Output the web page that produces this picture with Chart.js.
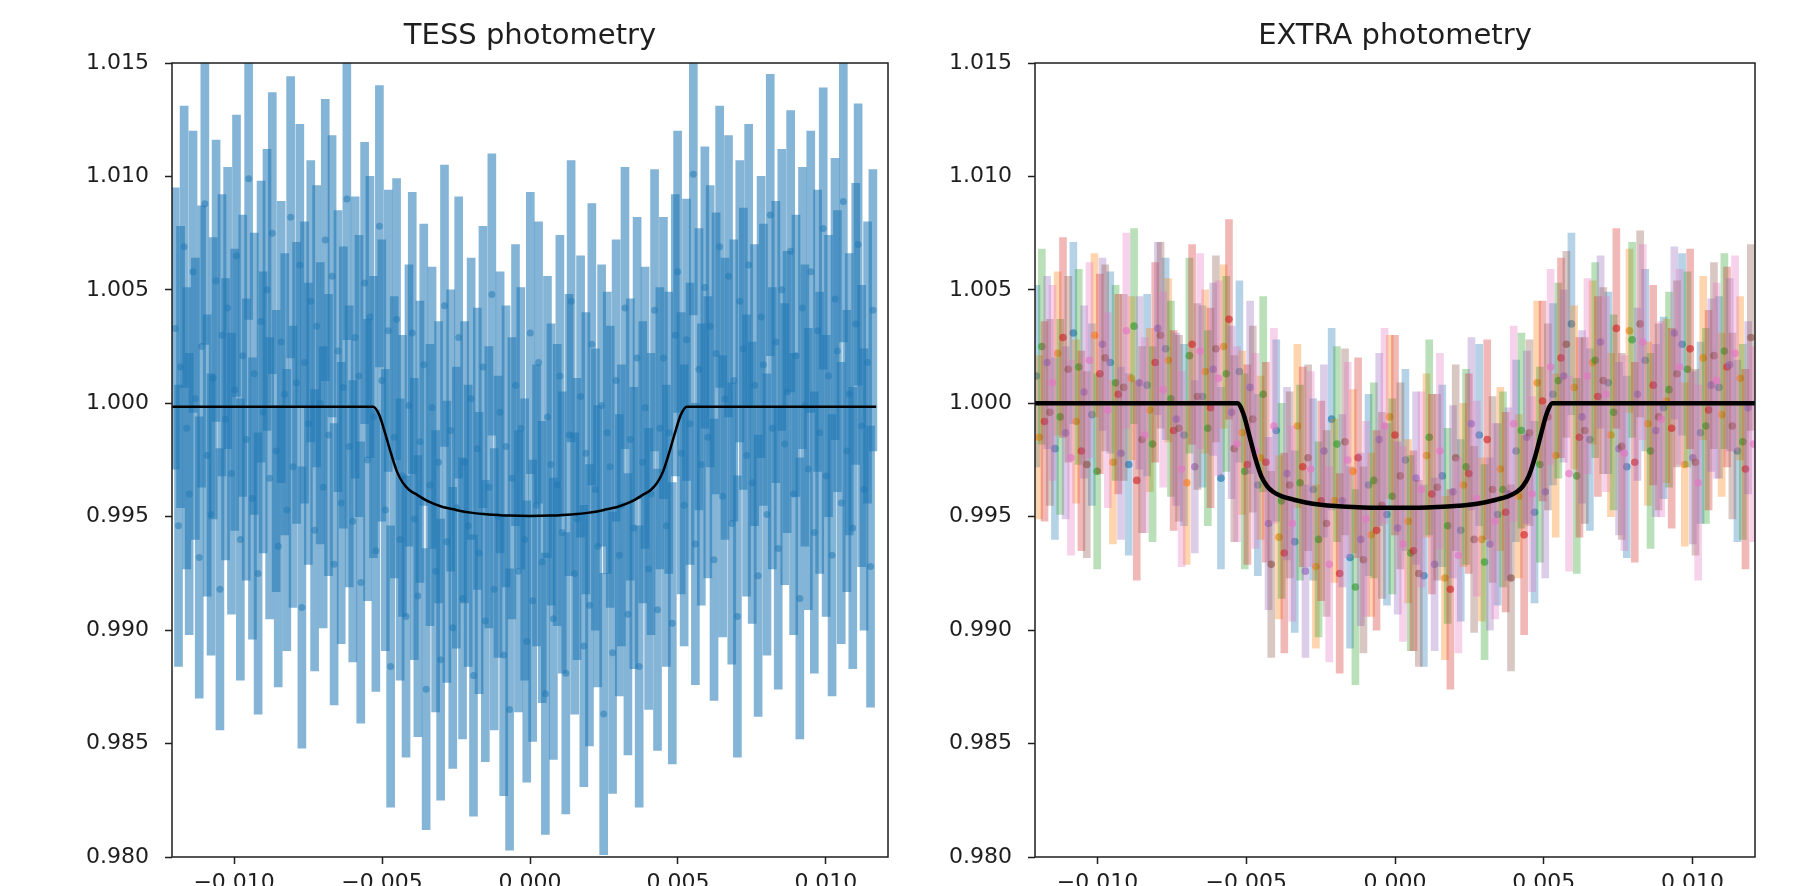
<!DOCTYPE html>
<html>
<head>
<meta charset="utf-8">
<script src="https://cdn.jsdelivr.net/npm/chart.js@4.4.1/dist/chart.umd.min.js"></script>
<style>
  html, body { margin: 0; padding: 0; background: #fff; overflow: hidden; width: 1797px; height: 886px; }
  canvas { position: absolute; top: 0; }
  #tess { left: 0; }
  #extra { left: 863px; }
</style>
</head>
<body>
<canvas id="tess" width="892" height="940"></canvas>
<canvas id="extra" width="900" height="940"></canvas>
<script>
// ---------- axes ----------
const xTicks = [-0.010, -0.005, 0.000, 0.005, 0.010];
const yTicks = [0.980, 0.985, 0.990, 0.995, 1.000, 1.005, 1.010, 1.015];
const xLimits = [-0.0121, 0.0121];
const yLimits = [0.980, 1.015];

// ---------- TESS photometry ----------
const tessTime = [
  -0.01199, -0.01188, -0.01181, -0.01169, -0.01160, -0.01152, -0.01139, -0.01131, -0.01118, -0.01110,
  -0.01099, -0.01091, -0.01078, -0.01071, -0.01061, -0.01048, -0.01041, -0.01029, -0.01022, -0.01009,
  -0.00998, -0.00992, -0.00979, -0.00971, -0.00959, -0.00951, -0.00938, -0.00932, -0.00919, -0.00909,
  -0.00902, -0.00889, -0.00880, -0.00871, -0.00858, -0.00851, -0.00841, -0.00829, -0.00822, -0.00809,
  -0.00801, -0.00789, -0.00778, -0.00771, -0.00762, -0.00749, -0.00741, -0.00728, -0.00721, -0.00709,
  -0.00699, -0.00692, -0.00681, -0.00669, -0.00662, -0.00649, -0.00638, -0.00631, -0.00619, -0.00611,
  -0.00599, -0.00591, -0.00578, -0.00572, -0.00559, -0.00549, -0.00541, -0.00529, -0.00521, -0.00509,
  -0.00501, -0.00489, -0.00479, -0.00471, -0.00459, -0.00451, -0.00439, -0.00431, -0.00419, -0.00409,
  -0.00398, -0.00391, -0.00379, -0.00372, -0.00359, -0.00351, -0.00338, -0.00331, -0.00319, -0.00309,
  -0.00302, -0.00289, -0.00281, -0.00268, -0.00261, -0.00249, -0.00241, -0.00228, -0.00221, -0.00209,
  -0.00199, -0.00191, -0.00178, -0.00172, -0.00159, -0.00151, -0.00139, -0.00129, -0.00121, -0.00108,
  -0.00101, -0.00089, -0.00081, -0.00069, -0.00061, -0.00049, -0.00039, -0.00031, -0.00018, -0.00011,
  0.00001, 0.00009, 0.00022, 0.00029, 0.00041, 0.00052, 0.00059, 0.00071, 0.00079, 0.00092,
  0.00101, 0.00109, 0.00121, 0.00132, 0.00139, 0.00151, 0.00159, 0.00171, 0.00182, 0.00189,
  0.00201, 0.00209, 0.00221, 0.00229, 0.00242, 0.00249, 0.00261, 0.00271, 0.00279, 0.00291,
  0.00302, 0.00309, 0.00321, 0.00331, 0.00339, 0.00351, 0.00362, 0.00369, 0.00381, 0.00389,
  0.00401, 0.00409, 0.00421, 0.00431, 0.00439, 0.00451, 0.00461, 0.00469, 0.00481, 0.00491,
  0.00499, 0.00511, 0.00521, 0.00529, 0.00541, 0.00552, 0.00559, 0.00571, 0.00579, 0.00591,
  0.00601, 0.00609, 0.00622, 0.00629, 0.00641, 0.00651, 0.00659, 0.00671, 0.00682, 0.00689,
  0.00701, 0.00709, 0.00721, 0.00732, 0.00739, 0.00751, 0.00759, 0.00771, 0.00781, 0.00789,
  0.00801, 0.00812, 0.00819, 0.00831, 0.00839, 0.00851, 0.00861, 0.00869, 0.00881, 0.00891,
  0.00899, 0.00912, 0.00921, 0.00929, 0.00941, 0.00949, 0.00961, 0.00972, 0.00979, 0.00991,
  0.01001, 0.01009, 0.01021, 0.01031, 0.01039, 0.01052, 0.01059, 0.01071, 0.01079, 0.01091,
  0.01101, 0.01109, 0.01121, 0.01129, 0.01141, 0.01151, 0.01159
];
const tessFlux = [
  1.0033, 0.9946, 1.0016, 1.0069, 0.9989, 0.9960, 1.0058, 1.0002, 0.9932, 1.0025,
  1.0088, 0.9977, 0.9951, 1.0011, 1.0054, 0.9918, 1.0030, 0.9993, 1.0042, 0.9969,
  1.0006, 1.0065, 0.9940, 1.0021, 0.9984, 1.0099, 0.9958, 1.0013, 0.9925, 1.0036,
  0.9996, 1.0050, 0.9967, 1.0075, 0.9979, 0.9937, 1.0027, 1.0004, 0.9953, 1.0082,
  0.9972, 1.0009, 1.0061, 0.9910, 1.0018, 0.9991, 1.0045, 0.9944, 1.0034, 1.0000,
  0.9963, 1.0072, 0.9986, 1.0056, 0.9929, 1.0023, 0.9956, 1.0007, 1.0090, 0.9981,
  0.9948, 1.0029, 1.0012, 0.9921, 1.0053, 0.9975, 1.0038, 0.9994, 0.9935, 1.0078,
  1.0010, 0.9953, 1.0032, 0.9884, 0.9985, 1.0037, 0.9940, 0.9968, 0.9906, 0.9999,
  1.0031, 0.9949, 0.9915, 0.9983, 1.0017, 0.9874, 0.9964, 0.9998, 0.9926, 0.9974,
  0.9887, 1.0043, 0.9939, 0.9988, 0.9901, 0.9954, 1.0029, 0.9914, 0.9974, 0.9946,
  1.0002, 0.9880, 0.9980, 0.9934, 1.0016, 0.9904, 0.9963, 1.0048, 0.9918, 0.9950,
  0.9996, 0.9889, 0.9981, 0.9865, 0.9967, 1.0008, 0.9926, 0.9989, 0.9940, 0.9895,
  1.0031, 0.9913, 0.9955, 1.0018, 0.9930, 0.9872, 0.9994, 0.9973, 0.9905, 0.9964,
  1.0012, 0.9943, 0.9881, 0.9986, 1.0045, 0.9925, 0.9949, 1.0003, 0.9893, 0.9978,
  0.9911, 1.0026, 0.9962, 0.9937, 0.9999, 0.9863, 0.9987, 0.9972, 0.9890, 1.0010,
  0.9933, 0.9955, 1.0042, 0.9907, 0.9984, 0.9945, 1.0020, 0.9884, 0.9974, 0.9998,
  0.9927, 0.9960, 1.0041, 0.9909, 0.9989, 1.0020, 0.9946, 0.9987, 0.9903, 1.0030,
  1.0058, 0.9978, 0.9955, 1.0028, 0.9991, 1.0101, 0.9938, 1.0015, 0.9973, 1.0051,
  0.9985, 1.0034, 0.9931, 1.0022, 1.0069, 0.9959, 1.0002, 1.0056, 0.9947, 1.0010,
  0.9906, 1.0045, 1.0024, 0.9977, 1.0061, 0.9965, 1.0008, 0.9924, 1.0038, 1.0017,
  0.9951, 1.0083, 0.9989, 1.0027, 0.9936, 1.0050, 0.9982, 1.0005, 1.0067, 0.9960,
  1.0021, 0.9914, 1.0042, 0.9999, 0.9971, 1.0058, 0.9943, 1.0032, 0.9987, 1.0077,
  0.9968, 1.0012, 0.9933, 1.0046, 1.0023, 0.9956, 1.0089, 0.9979, 1.0004, 0.9945,
  1.0035, 1.0070, 0.9990, 0.9962, 1.0018, 0.9928, 1.0041
];
const tessErr = 0.0062;

const tessModelTime = [-0.0121, -0.0060, -0.0053, -0.0051, -0.0049, -0.0047, -0.0045, -0.0043, -0.0041, -0.0038,
  -0.0034, -0.0030, -0.0025, -0.0020, -0.0014, -0.0007, 0.0000, 0.0007, 0.0014, 0.0020, 0.0025, 0.0030, 0.0034,
  0.0038, 0.0041, 0.0043, 0.0045, 0.0047, 0.0049, 0.0051, 0.0053, 0.0060, 0.0117];
const tessModelFlux = [0.99985, 0.99985, 0.99985, 0.9995, 0.9987, 0.9978, 0.9970, 0.99650, 0.99620, 0.99595,
  0.99565, 0.99545, 0.99530, 0.99518, 0.99510, 0.99505, 0.99503, 0.99505, 0.99510, 0.99518, 0.99530, 0.99545, 0.99565,
  0.99595, 0.99620, 0.99650, 0.9970, 0.9978, 0.9987, 0.9995, 0.99985, 0.99985, 0.99985];

// ---------- EXTRA photometry (seven instruments) ----------
const extraTimeA = [-0.01205, -0.01143, -0.01081, -0.01019, -0.00957, -0.00895, -0.00833, -0.00771, -0.00709, -0.00647,
  -0.00585, -0.00523, -0.00461, -0.00399, -0.00337, -0.00275, -0.00213, -0.00151, -0.00089, -0.00027, 0.00035, 0.00097,
  0.00159, 0.00221, 0.00283, 0.00345, 0.00407, 0.00469, 0.00531, 0.00593, 0.00655, 0.00717, 0.00779, 0.00841, 0.00903,
  0.00965, 0.01027, 0.01089, 0.01151];
const extraTimeB = [-0.01196, -0.01134, -0.01072, -0.01010, -0.00948, -0.00886, -0.00824, -0.00762, -0.00700, -0.00638,
  -0.00576, -0.00514, -0.00452, -0.00390, -0.00328, -0.00266, -0.00204, -0.00142, -0.00080, -0.00018, 0.00044, 0.00106,
  0.00168, 0.00230, 0.00292, 0.00354, 0.00416, 0.00478, 0.00540, 0.00602, 0.00664, 0.00726, 0.00788, 0.00850, 0.00912,
  0.00974, 0.01036, 0.01098, 0.01160];
const extraTimeC = [-0.01187, -0.01125, -0.01063, -0.01001, -0.00939, -0.00877, -0.00815, -0.00753, -0.00691, -0.00629,
  -0.00567, -0.00505, -0.00443, -0.00381, -0.00319, -0.00257, -0.00195, -0.00133, -0.00071, -0.00009, 0.00053, 0.00115,
  0.00177, 0.00239, 0.00301, 0.00363, 0.00425, 0.00487, 0.00549, 0.00611, 0.00673, 0.00735, 0.00797, 0.00859, 0.00921,
  0.00983, 0.01045, 0.01107, 0.01169];
const extraTimeD = [-0.01178, -0.01116, -0.01054, -0.00992, -0.00930, -0.00868, -0.00806, -0.00744, -0.00682, -0.00620,
  -0.00558, -0.00496, -0.00434, -0.00372, -0.00310, -0.00248, -0.00186, -0.00124, -0.00062, 0.00000, 0.00062, 0.00124,
  0.00186, 0.00248, 0.00310, 0.00372, 0.00434, 0.00496, 0.00558, 0.00620, 0.00682, 0.00744, 0.00806, 0.00868, 0.00930,
  0.00992, 0.01054, 0.01116, 0.01178];
const extraTimeE = [-0.01169, -0.01107, -0.01045, -0.00983, -0.00921, -0.00859, -0.00797, -0.00735, -0.00673, -0.00611,
  -0.00549, -0.00487, -0.00425, -0.00363, -0.00301, -0.00239, -0.00177, -0.00115, -0.00053, 0.00009, 0.00071, 0.00133,
  0.00195, 0.00257, 0.00319, 0.00381, 0.00443, 0.00505, 0.00567, 0.00629, 0.00691, 0.00753, 0.00815, 0.00877, 0.00939,
  0.01001, 0.01063, 0.01125, 0.01187];
const extraTimeF = [-0.01160, -0.01098, -0.01036, -0.00974, -0.00912, -0.00850, -0.00788, -0.00726, -0.00664, -0.00602,
  -0.00540, -0.00478, -0.00416, -0.00354, -0.00292, -0.00230, -0.00168, -0.00106, -0.00044, 0.00018, 0.00080, 0.00142,
  0.00204, 0.00266, 0.00328, 0.00390, 0.00452, 0.00514, 0.00576, 0.00638, 0.00700, 0.00762, 0.00824, 0.00886, 0.00948,
  0.01010, 0.01072, 0.01134, 0.01196];
const extraTimeG = [-0.01151, -0.01089, -0.01027, -0.00965, -0.00903, -0.00841, -0.00779, -0.00717, -0.00655, -0.00593,
  -0.00531, -0.00469, -0.00407, -0.00345, -0.00283, -0.00221, -0.00159, -0.00097, -0.00035, 0.00027, 0.00089, 0.00151,
  0.00213, 0.00275, 0.00337, 0.00399, 0.00461, 0.00523, 0.00585, 0.00647, 0.00709, 0.00771, 0.00833, 0.00895, 0.00957,
  0.01019, 0.01081, 0.01143, 0.01205];

const extraFluxA = [1.0012, 0.9980, 1.0031, 0.9995, 1.0018, 0.9973, 1.0008, 1.0024, 0.9986, 1.0003, 0.9967,
  1.0014, 0.9964, 0.9988, 0.9939, 0.9962, 0.9993, 0.9932, 0.9964, 0.9951, 0.9975, 0.9924, 0.9968, 0.9944, 0.9986,
  0.9951, 0.9979, 0.9952, 1.0004, 1.0035, 0.9984, 1.0009, 0.9972, 1.0019, 0.9998, 1.0026, 0.9987, 1.0007, 0.9979];
const extraFluxB = [0.9985, 1.0022, 0.9992, 1.0030, 0.9974, 1.0011, 0.9997, 1.0019, 0.9965, 1.0014, 1.0025,
  0.9987, 0.9976, 0.9941, 0.9990, 0.9928, 0.9957, 0.9970, 0.9942, 0.9994, 0.9948, 0.9977, 0.9923, 0.9964, 0.9940,
  0.9971, 0.9959, 1.0009, 0.9977, 1.0007, 1.0018, 0.9986, 1.0032, 0.9991, 1.0001, 0.9973, 1.0020, 0.9995, 1.0011];
const extraFluxC = [1.0025, 0.9994, 1.0016, 0.9970, 1.0009, 1.0034, 0.9982, 1.0002, 1.0021, 0.9989, 1.0013,
  0.9970, 1.0004, 0.9957, 0.9965, 0.9940, 0.9982, 0.9919, 0.9966, 0.9959, 0.9934, 0.9985, 0.9946, 0.9972, 0.9930,
  0.9962, 0.9988, 0.9973, 1.0010, 0.9968, 1.0019, 0.9996, 1.0028, 0.9979, 1.0006, 1.0015, 0.9990, 1.0023, 0.9983];
const extraFluxD = [0.9992, 1.0029, 0.9979, 1.0013, 1.0004, 0.9966, 1.0018, 0.9988, 1.0026, 0.9998, 1.0037,
  0.9973, 0.9974, 0.9934, 0.9972, 0.9957, 0.9925, 0.9976, 0.9944, 0.9986, 0.9935, 0.9960, 0.9918, 0.9969, 0.9984,
  0.9952, 0.9942, 1.0001, 1.0020, 0.9985, 1.0003, 1.0033, 0.9974, 1.0008, 0.9989, 1.0024, 0.9997, 1.0016, 0.9971];
const extraFluxE = [1.0018, 0.9987, 1.0005, 1.0026, 0.9978, 1.0009, 1.0033, 0.9993, 0.9972, 1.0015, 0.9996,
  1.0007, 0.9947, 0.9969, 0.9926, 0.9979, 0.9957, 0.9940, 0.9984, 0.9945, 0.9967, 0.9929, 0.9961, 0.9991, 0.9938,
  0.9960, 0.9985, 0.9961, 1.0012, 0.9994, 1.0027, 0.9980, 1.0004, 0.9988, 1.0031, 0.9976, 1.0008, 1.0017, 0.9998];
const extraFluxF = [0.9996, 1.0015, 0.9973, 1.0020, 1.0007, 0.9984, 1.0030, 0.9989, 1.0003, 1.0024, 0.9980,
  0.9993, 0.9929, 0.9964, 0.9976, 0.9947, 0.9983, 0.9931, 0.9955, 0.9968, 0.9925, 0.9963, 0.9976, 0.9940, 0.9962,
  0.9923, 0.9987, 0.9994, 1.0026, 0.9988, 1.0010, 0.9981, 1.0035, 0.9994, 1.0013, 0.9974, 1.0021, 0.9990, 1.0029];
const extraFluxG = [1.0009, 0.9976, 1.0019, 0.9997, 1.0032, 0.9986, 1.0006, 0.9971, 1.0023, 1.0011, 0.9982,
  0.9979, 0.9990, 0.9947, 0.9971, 0.9929, 0.9975, 0.9949, 0.9990, 0.9938, 0.9962, 0.9979, 0.9933, 0.9958, 0.9948,
  0.9991, 0.9960, 1.0016, 0.9969, 1.0012, 1.0004, 0.9978, 1.0027, 0.9993, 1.0016, 0.9965, 1.0010, 1.0022, 0.9982];
const extraErr = [0.0040, 0.0036, 0.0043, 0.0044, 0.0038, 0.0041, 0.0043];

const extraModelTime = [-0.0121, -0.0060, -0.0053, -0.0051, -0.0049, -0.0047, -0.0045, -0.0043, -0.0041, -0.0038,
  -0.0034, -0.0030, -0.0025, -0.0020, -0.0014, -0.0007, 0.0000, 0.0007, 0.0014, 0.0020, 0.0025, 0.0030, 0.0034,
  0.0038, 0.0041, 0.0043, 0.0045, 0.0047, 0.0049, 0.0051, 0.0053, 0.0060, 0.0121];
const extraModelFlux = [1.0000, 1.0000, 1.0000, 0.99955, 0.9986, 0.9976, 0.9968, 0.99635, 0.99610, 0.99590,
  0.99575, 0.99563, 0.99553, 0.99547, 0.99543, 0.99540, 0.99540, 0.99540, 0.99543, 0.99547, 0.99553, 0.99563, 0.99575,
  0.99590, 0.99610, 0.99635, 0.9968, 0.9976, 0.9986, 0.99955, 1.0000, 1.0000, 1.0000];

// ---------- drawing ----------
const tab10 = ['31,119,180', '255,127,14', '44,160,44', '214,39,40', '148,103,189', '140,86,75', '227,119,194'];
const inkColor = '#1e1e1e';
Chart.defaults.font.family = "'DejaVu Sans', sans-serif";
Chart.defaults.font.size = 22;
Chart.defaults.color = inkColor;

function errorBars(times, flux, err, rgb, alpha, width, order) {
  return {
    type: 'bar',
    data: times.map((t, i) => ({ x: t, y: [flux[i] - err, flux[i] + err] })),
    backgroundColor: 'rgba(' + rgb + ',' + alpha + ')',
    borderWidth: 0,
    grouped: false,
    barThickness: width,
    maxBarThickness: width,
    barPercentage: 1,
    order: order
  };
}

function dots(times, flux, rgb, alpha, radius, order) {
  return {
    type: 'scatter',
    data: times.map((t, i) => ({ x: t, y: flux[i] })),
    showLine: false,
    pointRadius: radius,
    pointBorderWidth: 0,
    pointBackgroundColor: 'rgba(' + rgb + ',' + alpha + ')',
    order: order
  };
}

function modelLine(times, flux, width) {
  return {
    type: 'line',
    data: times.map((t, i) => ({ x: t, y: flux[i] })),
    borderColor: '#000',
    borderWidth: width,
    pointRadius: 0,
    fill: false,
    cubicInterpolationMode: 'monotone',
    order: 0
  };
}

function fmt(v) {
  const s = Math.abs(v).toFixed(3);
  return v < -1e-9 ? '\u2212' + s : s;
}

const frame = {
  id: 'frame',
  afterDatasetsDraw(chart) {
    const a = chart.chartArea, ctx = chart.ctx;
    ctx.save();
    ctx.strokeStyle = inkColor;
    ctx.lineWidth = 1.5;
    ctx.strokeRect(a.left, a.top, a.right - a.left, a.bottom - a.top);
    ctx.restore();
  }
};

function panelOptions(title, rightPad) {
  const tickGrid = { display: true, drawOnChartArea: false, drawTicks: true, tickLength: 7, tickWidth: 1.5, tickColor: inkColor };
  return {
    responsive: false,
    animation: false,
    events: [],
    layout: { padding: { left: 0, right: rightPad, top: 0, bottom: 0 } },
    plugins: {
      legend: { display: false },
      tooltip: { enabled: false },
      title: {
        display: true, text: title, fullSize: false, color: inkColor,
        font: { size: 29, weight: 'normal' },
        padding: { top: 19, bottom: 9.2 }
      }
    },
    scales: {
      x: {
        type: 'linear', min: xLimits[0], max: xLimits[1], offset: false,
        grid: Object.assign({ offset: false }, tickGrid), border: { display: false },
        afterBuildTicks: s => { s.ticks = xTicks.map(v => ({ value: v })); },
        afterFit: s => { s.height = 83; },
        ticks: { padding: 6, maxRotation: 0, autoSkip: false, callback: fmt }
      },
      y: {
        type: 'linear', min: yLimits[0], max: yLimits[1],
        grid: tickGrid, border: { display: false },
        afterBuildTicks: s => { s.ticks = yTicks.map(v => ({ value: v })); },
        afterFit: s => { s.width = 172; },
        ticks: { padding: 16, callback: fmt }
      }
    }
  };
}

// TESS panel
new Chart(document.getElementById('tess'), {
  type: 'scatter',
  data: {
    datasets: [
      errorBars(tessTime, tessFlux, tessErr, tab10[0], 0.55, 8, 20),
      dots(tessTime, tessFlux, tab10[0], 0.5, 3.5, 19),
      modelLine(tessModelTime, tessModelFlux, 2.5)
    ]
  },
  options: panelOptions('TESS photometry', 4),
  plugins: [frame]
});

// EXTRA panel
const extraTimes = [extraTimeA, extraTimeB, extraTimeC, extraTimeD, extraTimeE, extraTimeF, extraTimeG];
const extraFluxes = [extraFluxA, extraFluxB, extraFluxC, extraFluxD, extraFluxE, extraFluxF, extraFluxG];
const extraSets = [];
extraTimes.forEach(function (times, k) {
  extraSets.push(errorBars(times, extraFluxes[k], extraErr[k], tab10[k], 0.33, 7, 100 - 2 * k));
  extraSets.push(dots(times, extraFluxes[k], tab10[k], 0.65, 3.8, 99 - 2 * k));
});
extraSets.push(modelLine(extraModelTime, extraModelFlux, 4.5));

new Chart(document.getElementById('extra'), {
  type: 'scatter',
  data: { datasets: extraSets },
  options: panelOptions('EXTRA photometry', 8),
  plugins: [frame]
});
</script>
</body>
</html>
